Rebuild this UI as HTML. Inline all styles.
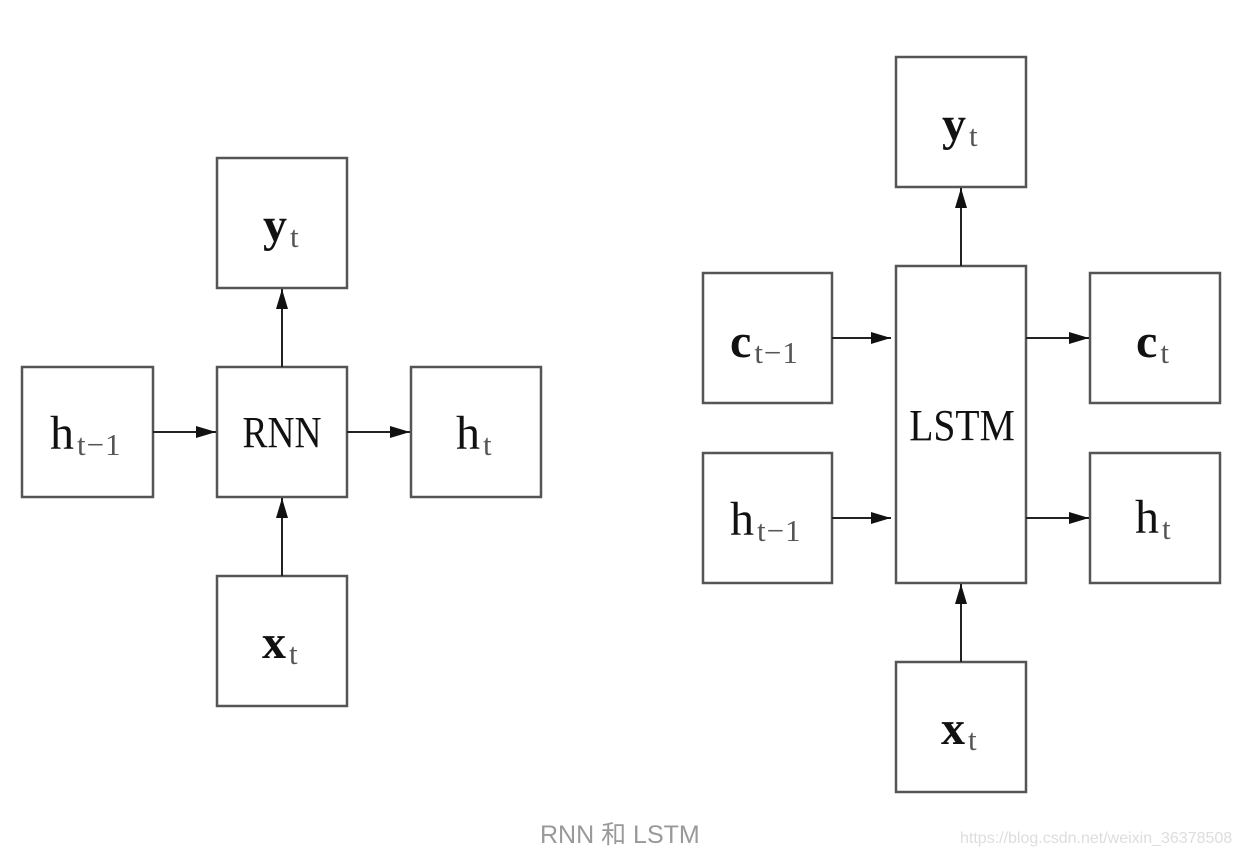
<!DOCTYPE html>
<html><head><meta charset="utf-8"><style>
html,body{margin:0;padding:0;background:#fff;}
svg{display:block;}
.b{fill:#fff;stroke:#555;stroke-width:2.5;}
.l{stroke:#222;stroke-width:2;fill:none;}
.m{font-family:"Liberation Serif",serif;font-size:48px;fill:#111;}
.s{font-family:"Liberation Serif",serif;font-size:31px;fill:#555;letter-spacing:1px;}
.bold{font-weight:bold;}
</style></head><body>
<svg width="1242" height="858" viewBox="0 0 1242 858" xmlns="http://www.w3.org/2000/svg">
<defs>
<marker id="av" markerWidth="20" markerHeight="12" refX="20" refY="6" orient="auto" markerUnits="userSpaceOnUse"><path d="M0,0 L20,6 L0,12 z" fill="#111"/></marker></defs>
<!-- RNN -->
<rect class="b" x="22" y="367" width="131" height="130"/>
<rect class="b" x="217" y="367" width="130" height="130"/>
<rect class="b" x="411" y="367" width="130" height="130"/>
<rect class="b" x="217" y="158" width="130" height="130"/>
<rect class="b" x="217" y="576" width="130" height="130"/>
<line class="l" x1="153" y1="432" x2="216" y2="432" marker-end="url(#av)"/>
<line class="l" x1="347" y1="432" x2="410" y2="432" marker-end="url(#av)"/>
<line class="l" x1="282" y1="367" x2="282" y2="289" marker-end="url(#av)"/>
<line class="l" x1="282" y1="576" x2="282" y2="498" marker-end="url(#av)"/>
<text x="50" y="449"><tspan class="m">h</tspan><tspan class="s" dx="3" dy="6">t−1</tspan></text>
<text x="282" y="447" text-anchor="middle" class="m" style="font-size:44px;transform:scale(0.85,1);transform-origin:282px 447px">RNN</text>
<text x="456" y="449"><tspan class="m">h</tspan><tspan class="s" dx="3" dy="6">t</tspan></text>
<text x="263" y="241"><tspan class="m bold">y</tspan><tspan class="s" dx="3" dy="6">t</tspan></text>
<text x="262" y="658"><tspan class="m bold">x</tspan><tspan class="s" dx="3" dy="6">t</tspan></text>
<!-- LSTM -->
<rect class="b" x="896" y="266" width="130" height="317"/>
<rect class="b" x="896" y="57" width="130" height="130"/>
<rect class="b" x="703" y="273" width="129" height="130"/>
<rect class="b" x="703" y="453" width="129" height="130"/>
<rect class="b" x="1090" y="273" width="130" height="130"/>
<rect class="b" x="1090" y="453" width="130" height="130"/>
<rect class="b" x="896" y="662" width="130" height="130"/>
<line class="l" x1="832" y1="338" x2="891" y2="338" marker-end="url(#av)"/>
<line class="l" x1="832" y1="518" x2="891" y2="518" marker-end="url(#av)"/>
<line class="l" x1="1026" y1="338" x2="1089" y2="338" marker-end="url(#av)"/>
<line class="l" x1="1026" y1="518" x2="1089" y2="518" marker-end="url(#av)"/>
<line class="l" x1="961" y1="266" x2="961" y2="188" marker-end="url(#av)"/>
<line class="l" x1="961" y1="662" x2="961" y2="584" marker-end="url(#av)"/>
<text x="962" y="440" text-anchor="middle" class="m" style="font-size:44px;transform:scale(0.9,1);transform-origin:962px 440px">LSTM</text>
<text x="942" y="140"><tspan class="m bold">y</tspan><tspan class="s" dx="3" dy="6">t</tspan></text>
<text x="730" y="357"><tspan class="m bold">c</tspan><tspan class="s" dx="3" dy="6">t−1</tspan></text>
<text x="730" y="535"><tspan class="m">h</tspan><tspan class="s" dx="3" dy="6">t−1</tspan></text>
<text x="1136" y="357"><tspan class="m bold">c</tspan><tspan class="s" dx="3" dy="6">t</tspan></text>
<text x="1135" y="533"><tspan class="m">h</tspan><tspan class="s" dx="3" dy="6">t</tspan></text>
<text x="941" y="744"><tspan class="m bold">x</tspan><tspan class="s" dx="3" dy="6">t</tspan></text>
<!-- caption -->
<text x="540" y="843" style="font-family:'Liberation Sans','Noto Sans CJK SC',sans-serif;font-size:25px;fill:#999">RNN 和 LSTM</text>
<text x="960" y="843" style="font-family:'Liberation Sans',sans-serif;font-size:16px;fill:#ddd">https://blog.csdn.net/weixin_36378508</text>
</svg>
</body></html>
